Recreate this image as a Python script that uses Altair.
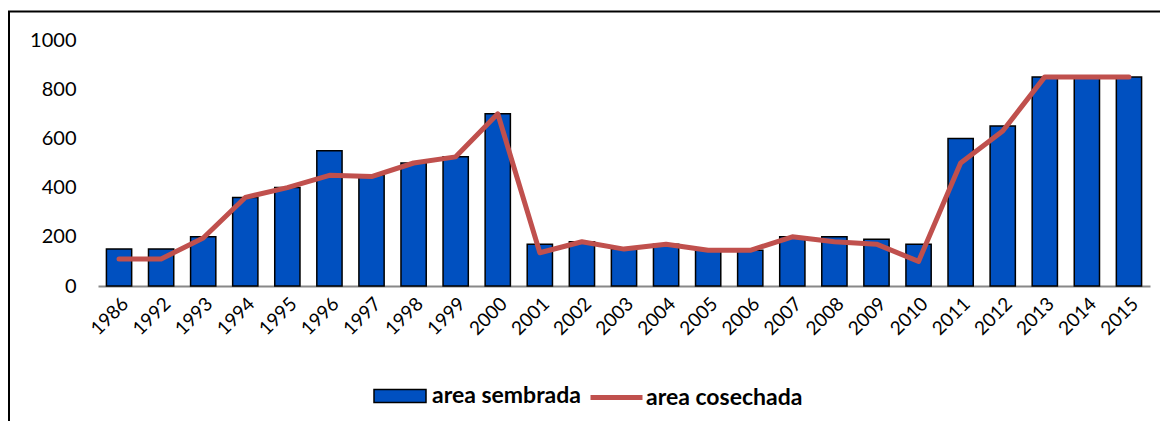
import altair as alt
import pandas as pd

years = ["1986", "1992", "1993", "1994", "1995", "1996", "1997", "1998", "1999", "2000",
         "2001", "2002", "2003", "2004", "2005", "2006", "2007", "2008", "2009", "2010",
         "2011", "2012", "2013", "2014", "2015"]
sembrada = [150, 150, 200, 360, 400, 550, 450, 500, 525, 700,
            170, 180, 150, 170, 145, 145, 200, 200, 190, 170,
            600, 650, 850, 850, 850]
cosechada = [110, 110, 195, 360, 400, 450, 445, 500, 525, 700,
             135, 180, 150, 170, 145, 145, 200, 180, 170, 100,
             500, 630, 850, 850, 850]

df = pd.DataFrame({"year": years, "sembrada": sembrada, "cosechada": cosechada,
                   "b": "area sembrada", "l": "area cosechada"})

FONT = "Lato"
BLUE = "#0050C0"
RED = "#C0504D"

xscale = alt.Scale(paddingInner=0.4, paddingOuter=0.2)
xaxis = alt.Axis(title=None, labelAngle=315, labelFontSize=19, labelFont=FONT,
                 labelColor="black", ticks=False, domainColor="#888888",
                 domainWidth=2, labelPadding=8)
yscale = alt.Scale(domain=[0, 1000])
yaxis = alt.Axis(title=None, values=[0, 200, 400, 600, 800, 1000], format="d",
                 labelFontSize=20, labelFont=FONT, labelColor="black", ticks=False,
                 domain=False, grid=False, labelPadding=22)

base = alt.Chart(df)

bars = base.mark_bar(stroke="black", strokeWidth=1.5).encode(
    x=alt.X("year:N", sort=None, scale=xscale, axis=xaxis),
    y=alt.Y("sembrada:Q", scale=yscale, axis=yaxis),
    fill=alt.Fill("b:N", scale=alt.Scale(domain=["area sembrada"], range=[BLUE]),
                  legend=alt.Legend(title=None, orient="none", legendX=275, legendY=329,
                                    symbolType="M-1,-0.25H1V0.25H-1Z", symbolSize=2704,
                                    symbolStrokeColor="black", symbolStrokeWidth=1.5,
                                    symbolFillColor=BLUE,
                                    labelFontSize=23, labelFont=FONT, labelFontWeight="bold",
                                    labelColor="black", labelOffset=5, padding=0)),
)

line = base.mark_line(strokeWidth=5, strokeJoin="round", strokeCap="round").encode(
    x=alt.X("year:N", sort=None, scale=xscale, axis=xaxis),
    y=alt.Y("cosechada:Q", scale=yscale, axis=yaxis),
    stroke=alt.Stroke("l:N", scale=alt.Scale(domain=["area cosechada"], range=[RED]),
                      legend=alt.Legend(title=None, orient="none", legendX=490, legendY=329,
                                        symbolType="stroke", symbolSize=2704,
                                        symbolStrokeWidth=5,
                                        labelFontSize=23, labelFont=FONT, labelFontWeight="bold",
                                        labelColor="black", labelOffset=1, padding=0)),
)

frame = alt.Chart(alt.Data(values=[{}])).mark_rect(
    fillOpacity=0, stroke="black", strokeWidth=2
).encode(
    x=alt.value(-89), x2=alt.value(1200), y=alt.value(-28.5), y2=alt.value(500)
)

chart = alt.layer(frame, bars, line).resolve_scale(fill="independent", stroke="independent").properties(
    width=1052, height=246,
    autosize=alt.AutoSizeParams(type="none"),
    padding={"left": 90, "top": 32, "right": 10, "bottom": 135},
).configure_view(stroke=None)

chart.save("out.html", embed_options={"renderer": "svg", "actions": False})
